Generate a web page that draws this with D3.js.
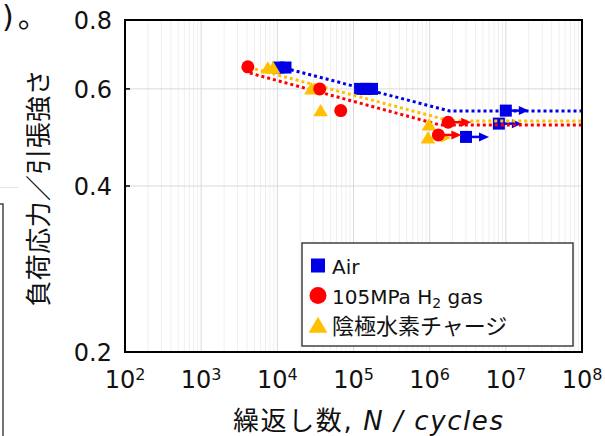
<!DOCTYPE html>
<html>
<head>
<meta charset="utf-8">
<script src="https://cdn.jsdelivr.net/npm/d3@7/dist/d3.min.js"></script>
<style>
  html, body { margin: 0; padding: 0; background: #fff; overflow: hidden; }
  svg { display: block; }
  text { font-family: "DejaVu Sans", "Noto Sans CJK JP", sans-serif; fill: #111; }
  .cjk { font-family: "Noto Sans CJK JP", "DejaVu Sans", sans-serif; }
</style>
</head>
<body>
<svg id="chart" width="605" height="436"></svg>
<script>
// ---- Data: fatigue tests, stress ratio (load stress / tensile strength) vs. cycles ----
// Air
const airN      = [1.04e4, 1.28e4, 1.22e5, 1.46e5, 1.75e5, 3.0e6, 8.1e6, 1.0e7];
const airS      = [0.656, 0.656, 0.600, 0.600, 0.600, 0.491, 0.519, 0.548];
const airRunout = [false, false, false, false, false, true, true, true];
// 105 MPa hydrogen gas
const h2N       = [4.1e3, 3.6e4, 6.8e4, 1.3e6, 1.75e6];
const h2S       = [0.658, 0.600, 0.548, 0.495, 0.522];
const h2Runout  = [false, false, false, true, true];
// Cathodic hydrogen charging
const chN       = [7.5e3, 8.8e3, 2.8e4, 3.7e4, 9.8e5, 9.5e5];
const chS       = [0.655, 0.655, 0.600, 0.548, 0.516, 0.489];
const chRunout  = [false, false, false, false, false, true];

// S-N trend lines (sloped part, knee, fatigue limit)
const airFitN = [1.26e4, 1.84e6, 1e8];
const airFitS = [0.654, 0.547, 0.547];
const h2FitN  = [4.35e3, 1.37e6, 1e8];
const h2FitS  = [0.641, 0.516, 0.516];
const chFitN  = [5.1e3, 1.85e6, 1e8];
const chFitS  = [0.652, 0.525, 0.525];

// Axes
const xTicks     = [1e2, 1e3, 1e4, 1e5, 1e6, 1e7, 1e8];
const xTickExp   = ["2", "3", "4", "5", "6", "7", "8"];
const yTicks     = [0.2, 0.4, 0.6, 0.8];
const yTickLabel = ["0.2", "0.4", "0.6", "0.8"];

const legendLabels = ["Air", "105MPa H2 gas", "陰極水素チャージ"];

// ---- Drawing ----
const svg = d3.select("#chart");
const plot = { left: 125, right: 582, top: 20, bottom: 352 };

const x = d3.scaleLog().domain([1e2, 1e8]).range([plot.left, plot.right]);
const y = d3.scaleLog().domain([0.2, 0.8]).range([plot.bottom, plot.top]);

const BLUE = "#0000e6", RED = "#ff0000", GOLD = "#ffc000";

// neighbouring page content at the left edge
const prev = svg.append("text").attr("x", -17).attr("y", 27).attr("font-size", 30);
prev.append("tspan").text("3)");
prev.append("tspan").attr("class", "cjk").attr("dx", 4).text("。");
svg.append("line").attr("x1", 0).attr("x2", 18).attr("y1", 187.5).attr("y2", 187.5)
  .attr("stroke", "#e4e4e4").attr("stroke-width", 1);
svg.append("rect").attr("x", -20).attr("y", 204).attr("width", 23).attr("height", 260)
  .attr("fill", "none").attr("stroke", "#444").attr("stroke-width", 1.5);

// grid
const g = svg.append("g");
const minor = [];
for (let e = 2; e < 8; e++) for (let m = 2; m <= 9; m++) minor.push(m * Math.pow(10, e));
g.selectAll("line.minor").data(minor).join("line")
  .attr("x1", d => x(d)).attr("x2", d => x(d))
  .attr("y1", plot.top).attr("y2", plot.bottom)
  .attr("stroke", "#efefef").attr("stroke-width", 1);
g.selectAll("line.major").data(xTicks.slice(1, -1)).join("line")
  .attr("x1", d => x(d)).attr("x2", d => x(d))
  .attr("y1", plot.top).attr("y2", plot.bottom)
  .attr("stroke", "#d9d9d9").attr("stroke-width", 1);
g.selectAll("line.hgrid").data(yTicks.slice(1, -1)).join("line")
  .attr("x1", plot.left).attr("x2", plot.right)
  .attr("y1", d => y(d)).attr("y2", d => y(d))
  .attr("stroke", "#d9d9d9").attr("stroke-width", 1);

// markers
const sym = {
  square: (sel, s) => sel.append("rect").attr("x", -s / 2).attr("y", -s / 2).attr("width", s).attr("height", s),
  circle: (sel, s) => sel.append("circle").attr("r", s / 2),
  triangle: (sel, s) => sel.append("path").attr("d", `M0,${-s * 0.48}L${s * 0.52},${s * 0.4}L${-s * 0.52},${s * 0.4}Z`)
};

function drawSeries(N, S, runout, color, shape, size) {
  const pts = N.map((n, i) => ({ n, s: S[i], r: runout[i] }));
  const grp = svg.append("g");
  pts.forEach(p => {
    const m = grp.append("g").attr("transform", `translate(${x(p.n)},${y(p.s)})`);
    sym[shape](m, size).attr("fill", color);
  });
  // run-out arrows
  pts.filter(p => p.r).forEach(p => {
    const cx = x(p.n), cy = y(p.s), tip = cx + 23;
    grp.append("line").attr("x1", cx).attr("x2", tip - 8).attr("y1", cy).attr("y2", cy)
      .attr("stroke", color).attr("stroke-width", 2.5);
    grp.append("path").attr("d", `M${tip},${cy}L${tip - 10},${cy - 4.5}L${tip - 10},${cy + 4.5}Z`)
      .attr("fill", color);
  });
}

function drawFit(N, S, color) {
  svg.append("path")
    .datum(N.map((n, i) => [n, S[i]]))
    .attr("d", d3.line().x(d => x(d[0])).y(d => y(d[1])))
    .attr("fill", "none").attr("stroke", color)
    .attr("stroke-width", 3).attr("stroke-dasharray", "3 3");
}

drawSeries(airN, airS, airRunout, BLUE, "square", 12);
drawFit(airFitN, airFitS, BLUE);
drawFit(chFitN, chFitS, GOLD);
drawFit(h2FitN, h2FitS, RED);
drawSeries(chN, chS, chRunout, GOLD, "triangle", 14);
drawSeries(h2N, h2S, h2Runout, RED, "circle", 13);

// y ticks (inward) and labels
svg.selectAll("line.yt").data(yTicks.slice(1, -1)).join("line")
  .attr("x1", plot.left).attr("x2", plot.left + 5)
  .attr("y1", d => y(d)).attr("y2", d => y(d))
  .attr("stroke", "#000").attr("stroke-width", 1.5);
svg.selectAll("text.yl").data(yTicks).join("text")
  .attr("x", 112).attr("y", d => y(d)).attr("dy", "0.36em")
  .attr("text-anchor", "end").attr("font-size", 24)
  .text((d, i) => yTickLabel[i]);

// x tick labels 10^n
const xl = svg.selectAll("text.xl").data(xTicks).join("text")
  .attr("x", d => x(d)).attr("y", 388)
  .attr("text-anchor", "middle").attr("font-size", 24);
xl.append("tspan").text("10");
xl.append("tspan").attr("font-size", 16).attr("dy", -8).text((d, i) => xTickExp[i]);

// frame
svg.append("rect").attr("x", plot.left).attr("y", plot.top)
  .attr("width", plot.right - plot.left).attr("height", plot.bottom - plot.top)
  .attr("fill", "none").attr("stroke", "#000").attr("stroke-width", 2);

// axis titles
const xt = svg.append("text").attr("x", 368).attr("y", 430)
  .attr("text-anchor", "middle").attr("font-size", 26)
  .attr("textLength", 270).attr("lengthAdjust", "spacing");
xt.append("tspan").attr("class", "cjk").text("繰返し数");
xt.append("tspan").text(", ");
xt.append("tspan").attr("font-style", "italic").text("N / cycles");

svg.append("text").attr("class", "cjk")
  .attr("transform", "translate(48,188) rotate(-90)")
  .attr("text-anchor", "middle").attr("font-size", 26)
  .attr("textLength", 237).attr("lengthAdjust", "spacing")
  .text("負荷応力／引張強さ");

// legend
const lg = svg.append("g");
lg.append("rect").attr("x", 302).attr("y", 243).attr("width", 271).attr("height", 103)
  .attr("fill", "#fff").attr("stroke", "#404040").attr("stroke-width", 1.5);
const legendItems = [
  { color: BLUE, shape: "square", size: 14 },
  { color: RED, shape: "circle", size: 17 },
  { color: GOLD, shape: "triangle", size: 18 }
];
legendItems.forEach((it, i) => {
  const cy = 265.5 + i * 30;
  const m = lg.append("g").attr("transform", `translate(318,${cy})`);
  sym[it.shape](m, it.size).attr("fill", it.color);
  const t = lg.append("text").attr("x", 332).attr("y", cy + 8).attr("font-size", 20);
  const label = legendLabels[i];
  if (label.includes("H2")) {
    const parts = label.split("H2");
    t.append("tspan").text(parts[0] + "H");
    t.append("tspan").attr("font-size", 14).attr("dy", 4).text("2");
    t.append("tspan").attr("dy", -4).text(parts[1]);
  } else if (/[\u3040-\u9fff]/.test(label)) {
    t.attr("class", "cjk").attr("font-size", 22).attr("y", cy + 8.5).text(label);
  } else {
    t.text(label);
  }
});
</script>
</body>
</html>
